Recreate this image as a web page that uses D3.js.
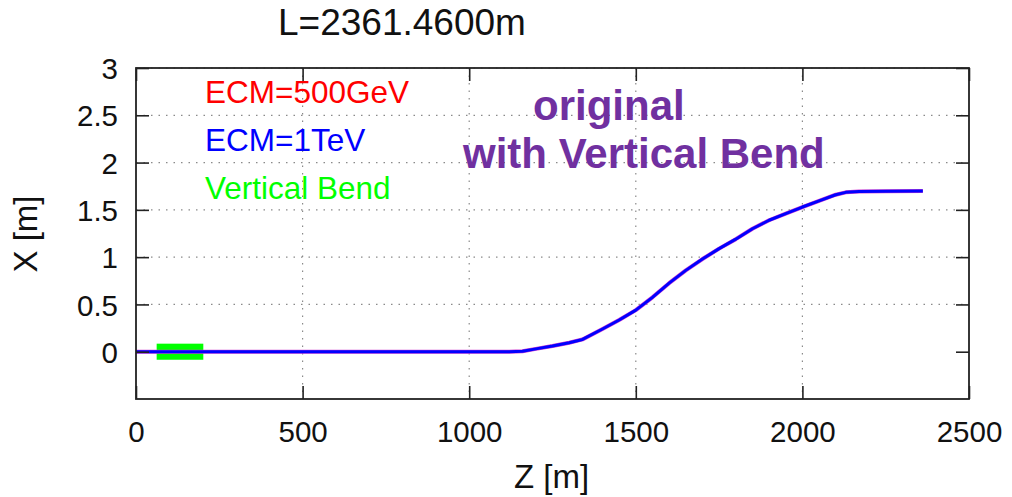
<!DOCTYPE html>
<html>
<head>
<meta charset="utf-8">
<script src="https://cdn.jsdelivr.net/npm/d3@7"></script>
<style>
  html, body { margin: 0; padding: 0; background: #fff; }
  svg { display: block; }
  text { font-family: "Liberation Sans", Arial, sans-serif; }
</style>
</head>
<body>
<svg id="chart" width="1012" height="497"></svg>
<script>
// Beam line orbit: horizontal offset X along the line Z
const zValues = [0, 200, 400, 600, 800, 1000, 1120, 1160, 1200, 1250, 1300, 1340, 1400, 1450, 1500,
                 1550, 1600, 1650, 1700, 1750, 1800, 1850, 1900, 1950, 2000, 2050, 2100, 2130,
                 2170, 2250, 2361.46];
const xValues = [0, 0, 0, 0, 0, 0, 0, 0.005, 0.03, 0.06, 0.095, 0.13, 0.24, 0.335, 0.44,
                 0.575, 0.725, 0.86, 0.98, 1.09, 1.19, 1.30, 1.39, 1.46, 1.53, 1.595, 1.66, 1.685,
                 1.695, 1.697, 1.70];

// vertical bend section (Z start, Z end) and its drawn half-height in X
const bendZ = [62, 202];
const bendHalf = 0.085;

const seriesNames = ["ECM=500GeV", "ECM=1TeV", "Vertical Bend"];
const seriesColors = ["#ff0000", "#0000ff", "#00ff00"];

const zTicks = [0, 500, 1000, 1500, 2000, 2500];
const xTicks = [0, 0.5, 1, 1.5, 2, 2.5, 3];

const titleText = "L=2361.4600m";
const noteLines = ["original", "with Vertical Bend"];

const svg = d3.select("#chart");
const W = 1012, H = 497;
const m = { left: 136, right: 1012 - 969, top: 68, bottom: 497 - 399 };

svg.append("rect").attr("width", W).attr("height", H).attr("fill", "#fff");

const x = d3.scaleLinear().domain([0, 2500]).range([m.left, W - m.right]);
const y = d3.scaleLinear().domain([-0.5, 3]).range([H - m.bottom, m.top]);

const pw = x.range()[1] - x.range()[0];
const ph = y.range()[0] - y.range()[1];

// dotted grid
const grid = svg.append("g").attr("stroke", "#8a8a8a").attr("stroke-width", 1.2)
  .attr("stroke-dasharray", "1.5,6");
grid.selectAll(".gz").data(zTicks.slice(1, -1)).join("line")
  .attr("x1", d => x(d)).attr("x2", d => x(d))
  .attr("y1", y.range()[1]).attr("y2", y.range()[0]);
grid.selectAll(".gx").data(xTicks.slice(1)).join("line")
  .attr("y1", d => y(d)).attr("y2", d => y(d))
  .attr("x1", x.range()[0]).attr("x2", x.range()[1]);

// vertical bend marker
svg.append("rect")
  .attr("x", x(bendZ[0])).attr("width", x(bendZ[1]) - x(bendZ[0]))
  .attr("y", y(bendHalf)).attr("height", y(-bendHalf) - y(bendHalf))
  .attr("fill", seriesColors[2]);

// orbit curves (1 TeV drawn over 500 GeV)
const pts = zValues.map((z, i) => [z, xValues[i]]);
const line = d3.line().x(d => x(d[0])).y(d => y(d[1]));
svg.append("path").attr("d", line(pts)).attr("fill", "none")
  .attr("stroke", "#d040d0").attr("stroke-width", 4).attr("stroke-linejoin", "round");
svg.append("path").attr("d", line(pts)).attr("fill", "none")
  .attr("stroke", seriesColors[1]).attr("stroke-width", 3).attr("stroke-linejoin", "round");

// axes with inward ticks on all four sides
const tickLen = 13;
const fmt = d => String(d);
const axB = svg.append("g").attr("transform", `translate(0,${y.range()[0]})`)
  .call(d3.axisBottom(x).tickValues(zTicks).tickFormat(fmt).tickSizeInner(-tickLen).tickSizeOuter(0));
const axT = svg.append("g").attr("transform", `translate(0,${y.range()[1]})`)
  .call(d3.axisTop(x).tickValues(zTicks).tickFormat("").tickSizeInner(-tickLen).tickSizeOuter(0));
const axL = svg.append("g").attr("transform", `translate(${x.range()[0]},0)`)
  .call(d3.axisLeft(y).tickValues(xTicks).tickFormat(fmt).tickSizeInner(-tickLen).tickSizeOuter(0));
const axR = svg.append("g").attr("transform", `translate(${x.range()[1]},0)`)
  .call(d3.axisRight(y).tickValues(xTicks).tickFormat("").tickSizeInner(-tickLen).tickSizeOuter(0));

[axB, axT, axL, axR].forEach(g => {
  g.select(".domain").remove();
  g.selectAll(".tick line").attr("stroke", "#222").attr("stroke-width", 1.6);
  g.selectAll(".tick text").attr("fill", "#111").attr("font-size", 29.5)
    .attr("font-family", "Liberation Sans, Arial, sans-serif");
});
axB.selectAll(".tick text").attr("dy", "0.71em").attr("y", 22);
axL.selectAll(".tick text").attr("x", -18).attr("dy", "0.36em");

// frame
svg.append("rect").attr("x", x.range()[0]).attr("y", y.range()[1])
  .attr("width", pw).attr("height", ph)
  .attr("fill", "none").attr("stroke", "#222").attr("stroke-width", 1.8);

// axis titles
svg.append("text").attr("x", 551.5).attr("y", 488).attr("text-anchor", "middle")
  .attr("font-size", 33).attr("fill", "#111").text("Z [m]");
svg.append("text").attr("transform", "translate(37,234) rotate(-90)").attr("text-anchor", "middle")
  .attr("font-size", 33).attr("fill", "#111").text("X [m]");

// title
svg.append("text").attr("x", 278).attr("y", 35).attr("font-size", 37).attr("fill", "#111")
  .text(titleText);

// legend
svg.selectAll(".leg").data(seriesNames).join("text")
  .attr("x", 205).attr("y", (d, i) => 103 + i * 48)
  .attr("font-size", 31.5).attr("fill", (d, i) => seriesColors[i]).text(d => d);

// annotation
svg.append("text").attr("x", 533).attr("y", 120).attr("font-family", "Lato, sans-serif")
  .attr("font-weight", "bold").attr("font-size", 42).attr("fill", "#7030a0").text(noteLines[0]);
svg.append("text").attr("x", 463).attr("y", 168).attr("font-family", "Lato, sans-serif")
  .attr("font-weight", "bold").attr("font-size", 42).attr("fill", "#7030a0").text(noteLines[1]);
</script>
</body>
</html>
